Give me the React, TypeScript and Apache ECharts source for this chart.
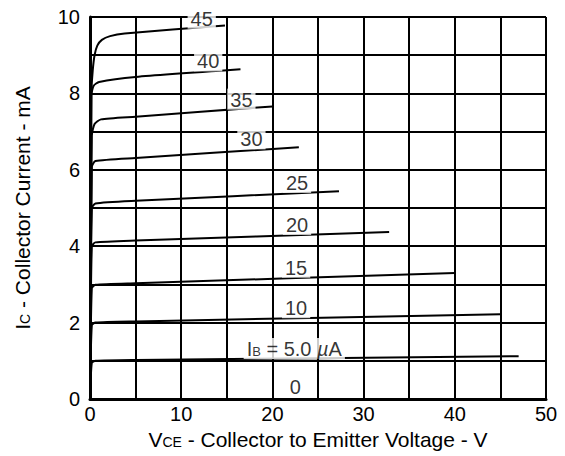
import React, { useEffect, useRef } from "react";
import * as echarts from "echarts";

// Collector characteristic curves: [Vce (V), Ic (mA)]
const ib45 = [[0, 0], [0.15, 8.0], [0.3, 8.6], [0.5, 9.0], [0.8, 9.25], [1.3, 9.4], [2.2, 9.5], [3.8, 9.57], [14.8, 9.78]];
const ib40 = [[0, 0], [0.15, 7.95], [0.4, 8.2], [1.0, 8.3], [5, 8.43], [16.5, 8.63]];
const ib35 = [[0, 0], [0.2, 6.9], [0.5, 7.2], [1.2, 7.32], [5, 7.39], [20, 7.66]];
const ib30 = [[0, 0], [0.2, 6.08], [0.6, 6.23], [5, 6.31], [22.9, 6.59]];
const ib25 = [[0, 0], [0.2, 5.0], [0.6, 5.12], [5, 5.19], [27.3, 5.44]];
const ib20 = [[0, 0], [0.2, 4.0], [0.6, 4.1], [5, 4.15], [32.8, 4.37]];
const ib15 = [[0, 0], [0.2, 2.9], [0.6, 2.99], [5, 3.03], [40, 3.3]];
const ib10 = [[0, 0], [0.2, 1.93], [0.6, 2.0], [5, 2.03], [45, 2.22]];
const ib5 = [[0, 0], [0.2, 0.95], [0.6, 1.0], [5, 1.02], [47, 1.12]];
const ib0 = [[0, 0], [50, 0]];

const curves = [ib45, ib40, ib35, ib30, ib25, ib20, ib15, ib10, ib5, ib0];

// Curve labels (base current, µA) and their anchor points in data units
const curveLabels = ["45", "40", "35", "30", "25", "20", "15", "10", "{a|I}{s|B}{a| = 5.0 }{m|µ}{a|A}", "0"];
const labelVce = [12.25, 12.96, 16.6, 17.7, 22.7, 22.7, 22.6, 22.6, 22.4, 22.5];
const labelIc = [9.97, 8.85, 7.85, 6.81, 5.67, 4.57, 3.45, 2.39, 1.32, 0.32];

const FONT = "'Liberation Sans', Arial, sans-serif";

export default function App() {
  const ref = useRef<HTMLDivElement>(null);
  useEffect(() => {
    if (!ref.current) return;
    const chart = echarts.init(ref.current, null, { renderer: "svg" });
    const lineSeries = curves.map((d) => ({
      type: "line",
      data: d,
      showSymbol: false,
      symbol: "none",
      smooth: 0.2,
      lineStyle: { color: "#000", width: 2 },
      z: 3,
    }));
    const labelData = curveLabels.map((t, i) => ({ value: [labelVce[i], labelIc[i]], name: t }));
    const nameRich = {
      a: { fontSize: 21, fontFamily: FONT, color: "#000" },
      s: { fontSize: 14, fontFamily: FONT, color: "#000", verticalAlign: "bottom", padding: [0, 0, 1, 0] },
    };
    chart.setOption({
      animation: false,
      backgroundColor: "#fff",
      grid: { left: 90, right: 19, top: 17, bottom: 57 },
      xAxis: {
        type: "value",
        min: 0,
        max: 50,
        interval: 10,
        name: "{a|V}{s|CE}{a| - Collector to Emitter Voltage - V}",
        nameLocation: "middle",
        nameGap: 30,
        nameTextStyle: { color: "#000", rich: nameRich },
        axisLine: { show: true, onZero: false, lineStyle: { color: "#000", width: 3 } },
        axisTick: { show: false },
        axisLabel: { color: "#000", fontSize: 20, fontFamily: FONT, margin: 5 },
        splitLine: { show: true, lineStyle: { color: "#000", width: 2 } },
        minorTick: { show: false, splitNumber: 2 },
        minorSplitLine: { show: true, lineStyle: { color: "#000", width: 2 } },
      },
      yAxis: {
        type: "value",
        min: 0,
        max: 10,
        interval: 2,
        name: "{a|I}{s|C}{a| - Collector Current - mA}",
        nameLocation: "middle",
        nameGap: 57,
        nameTextStyle: { color: "#000", rich: nameRich },
        axisLine: { show: true, onZero: false, lineStyle: { color: "#000", width: 3 } },
        axisTick: { show: false },
        axisLabel: { color: "#000", fontSize: 20, fontFamily: FONT, margin: 10 },
        splitLine: { show: true, lineStyle: { color: "#000", width: 2 } },
        minorTick: { show: false, splitNumber: 2 },
        minorSplitLine: { show: true, lineStyle: { color: "#000", width: 2 } },
      },
      series: [
        ...lineSeries,
        {
          type: "scatter",
          data: labelData,
          symbolSize: 0,
          z: 5,
          silent: true,
          label: {
            show: true,
            position: "inside",
            formatter: (p: any) => p.name,
            color: "#000",
            fontSize: 20,
            fontFamily: FONT,
            backgroundColor: "#fff",
            padding: [1, 3, 0, 3],
            rich: {
              a: { fontSize: 20, fontFamily: FONT, color: "#000" },
              s: { fontSize: 13, fontFamily: FONT, color: "#000", verticalAlign: "bottom", padding: [0, 0, 1, 0] },
              m: { fontSize: 20, fontFamily: FONT, color: "#000", fontStyle: "italic" },
            },
          },
        },
      ],
    });
    return () => chart.dispose();
  }, []);
  return (
    <div
      ref={ref}
      style={{ position: "fixed", left: 0, top: 0, width: 565, height: 456, background: "#fff" }}
    />
  );
}
